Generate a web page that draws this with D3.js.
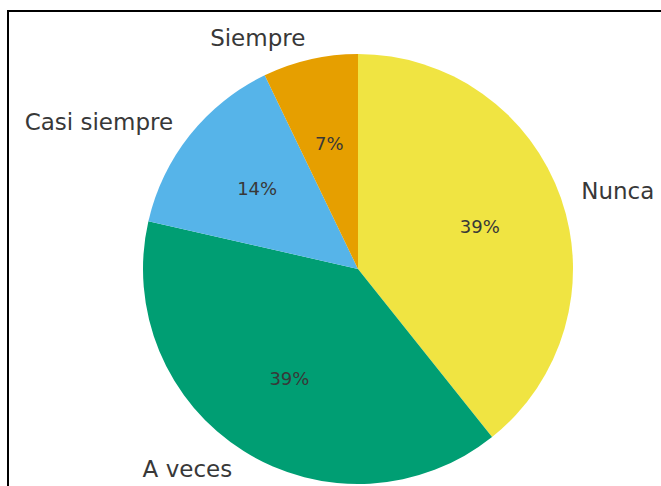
<!DOCTYPE html>
<html>
<head>
<meta charset="utf-8">
<script src="https://cdn.jsdelivr.net/npm/d3@7"></script>
<style>
  body { margin: 0; background: #fff; }
  svg { display: block; font-family: "DejaVu Sans", sans-serif; }
  .lbl { font-size: 23px; fill: #383838; }
  .pct { font-size: 18px; fill: #383838; }
</style>
</head>
<body>
<svg id="chart" width="661" height="486"></svg>
<script>
  var categories = ["Nunca", "A veces", "Casi siempre", "Siempre"];
  var counts = [11, 11, 4, 2];
  var colors = ["#F0E442", "#009E73", "#56B4E9", "#E69F00"];

  var svg = d3.select("#chart");
  var cx = 358, cy = 269, r = 215;

  // frame of the axes, cut off at right and bottom like the original
  svg.append("rect")
    .attr("x", 8).attr("y", 11)
    .attr("width", 700).attr("height", 520)
    .attr("fill", "none")
    .attr("stroke", "#000")
    .attr("stroke-width", 2);

  var total = d3.sum(counts);
  var pie = d3.pie().sort(null).value(function(d) { return d; });
  var arcs = pie(counts);
  var arc = d3.arc().innerRadius(0).outerRadius(r);

  var g = svg.append("g").attr("transform", "translate(" + cx + "," + cy + ")");

  g.selectAll("path.slice")
    .data(arcs)
    .enter().append("path")
    .attr("class", "slice")
    .attr("d", arc)
    .attr("fill", function(d, i) { return colors[i]; });

  function mid(d) { return (d.startAngle + d.endAngle) / 2; }

  g.selectAll("text.lbl")
    .data(arcs)
    .enter().append("text")
    .attr("class", "lbl")
    .attr("x", function(d) { return 1.1 * r * Math.sin(mid(d)); })
    .attr("y", function(d) { return -1.1 * r * Math.cos(mid(d)); })
    .attr("dy", "0.35em")
    .attr("text-anchor", function(d) { return Math.sin(mid(d)) >= 0 ? "start" : "end"; })
    .text(function(d, i) { return categories[i]; });

  g.selectAll("text.pct")
    .data(arcs)
    .enter().append("text")
    .attr("class", "pct")
    .attr("x", function(d) { return 0.6 * r * Math.sin(mid(d)); })
    .attr("y", function(d) { return -0.6 * r * Math.cos(mid(d)); })
    .attr("dy", "0.35em")
    .attr("text-anchor", "middle")
    .text(function(d) { return d3.format(".0f")(d.value / total * 100) + "%"; });
</script>
</body>
</html>
